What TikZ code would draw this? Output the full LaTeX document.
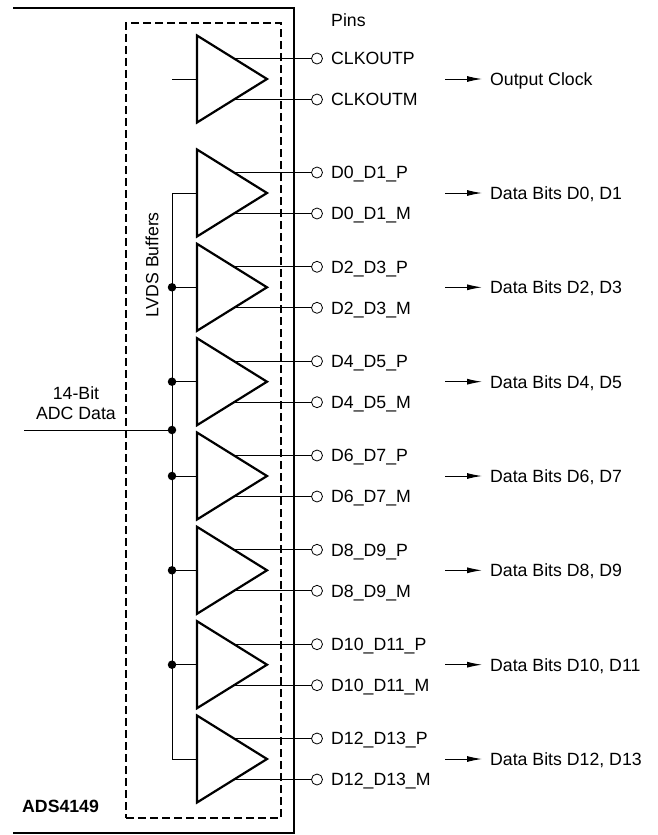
\documentclass[tikz,border=0pt]{standalone}
\usepackage{fontspec}
\setmainfont{Liberation Sans}
\usetikzlibrary{arrows.meta,positioning,shapes.geometric}

\begin{document}
\begin{tikzpicture}[x=1pt, y=-1pt, >={Latex[length=15pt,width=6pt]},
  font=\fontsize{17.7}{20}\selectfont,
  buffer/.style={draw, isosceles triangle, isosceles triangle stretches, shape border rotate=0, minimum width=87pt, minimum height=70pt, inner sep=0pt, outer sep=0pt, line width=2.2pt},
  pin/.style={draw, circle, minimum size=11pt, inner sep=0pt, outer sep=0pt, line width=0.8pt},
  lab/.style={inner sep=0pt, text height=12.7pt, text depth=0pt},
  junction/.style={circle, fill=black, minimum size=8.5pt, inner sep=0pt},
  wire/.style={line width=1pt},
  node distance=8.5pt]
\useasboundingbox (0,0) rectangle (658,835);
% package outline and buffer region
\draw[line width=2.6pt] (13,8) -| (294,833) -- (13,833);
\node[draw, dashed, dash pattern=on 8pt off 4pt, line width=2.4pt, minimum width=155pt, minimum height=795pt] (region) at (203.5,420.5) {};
\node[lab, rotate=90] (lvds) at (152,265) {LVDS Buffers};
\node[lab, anchor=west] (pins) at (331,20) {Pins};
\node[lab, font=\fontsize{17.7}{20}\selectfont\bfseries, anchor=west] (chip) at (22,806) {ADS4149};
% one buffer with its two pins and its output label
\foreach \n/\y/\p/\m/\t in {0/79/CLKOUTP/CLKOUTM/Output Clock,
  1/193/D0\_D1\_P/D0\_D1\_M/{Data Bits D0, D1},
  2/287.3/D2\_D3\_P/D2\_D3\_M/{Data Bits D2, D3},
  3/381.7/D4\_D5\_P/D4\_D5\_M/{Data Bits D4, D5},
  4/476/D6\_D7\_P/D6\_D7\_M/{Data Bits D6, D7},
  5/570.3/D8\_D9\_P/D8\_D9\_M/{Data Bits D8, D9},
  6/664.7/D10\_D11\_P/D10\_D11\_M/{Data Bits D10, D11},
  7/759/D12\_D13\_P/D12\_D13\_M/{Data Bits D12, D13}}{
  \node[buffer, anchor=lower side] (buf\n) at (197,\y) {};
  \node[pin] (pinp\n) at (317,\y-20.5) {};
  \node[pin] (pinm\n) at (317,\y+20.5) {};
  \node[lab, right=of pinp\n] {\p};
  \node[lab, right=of pinm\n] {\m};
  \draw[wire] (pinp\n.west) -- ([xshift=-33pt]buf\n.apex |- pinp\n.west);
  \draw[wire] (pinm\n.west) -- ([xshift=-33pt]buf\n.apex |- pinm\n.west);
  \node[lab, anchor=west] (out\n) at (490,\y) {\t};
  \coordinate (arr\n) at (445,\y);
  \draw[->, wire, shorten >=8pt] (arr\n) -- (out\n.west);
}
% clock input stub
\coordinate (clkin) at (172,79);
\draw[wire] (clkin) -- (buf0.lower side);
% common data bus
\coordinate (bustop) at (172,193);
\coordinate (busend) at (172,759);
\draw[wire] (buf1.lower side) -- (bustop) -- (busend) -- (buf7.lower side);
\foreach \n in {2,...,6}{
  \node[junction] (dot\n) at (bustop |- buf\n.lower side) {};
  \draw[wire] (dot\n) -- (buf\n.lower side);
}
% ADC data input
\node[junction] (dotin) at (172,430) {};
\coordinate (adc) at (24,430);
\draw[wire] (adc) -- (dotin);
\node[lab] (adctop) at (76,393) {14-Bit};
\node[lab, below=7pt of adctop] (adclow) {ADC Data};
\end{tikzpicture}
\end{document}
